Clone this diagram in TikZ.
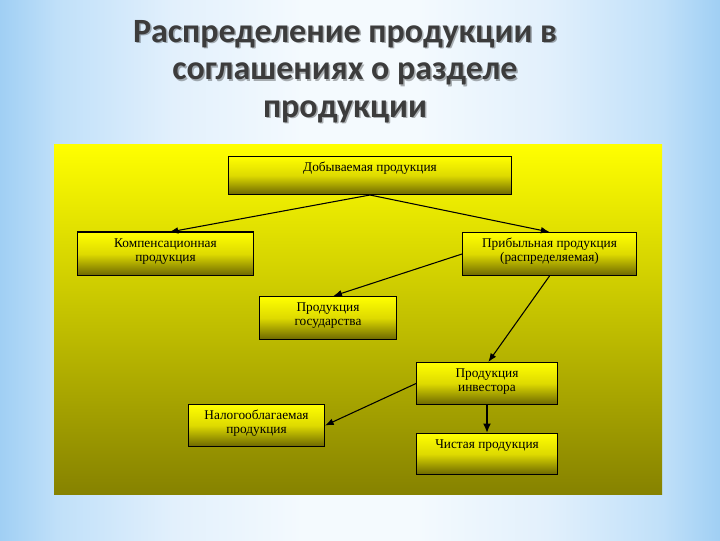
\documentclass[tikz,border=0pt]{standalone}
\usepackage{fontspec}
\setmainfont{Liberation Serif}
\newfontfamily\titlefont{Carlito}
\usetikzlibrary{arrows.meta}
\definecolor{bga}{RGB}{160,207,244}
\definecolor{bgb}{RGB}{192,224,249}
\definecolor{bgc}{RGB}{226,240,252}
\definecolor{bgd}{RGB}{244,250,254}
\definecolor{paneltop}{RGB}{255,255,0}
\definecolor{panelbot}{RGB}{134,130,0}
\definecolor{boxtop}{RGB}{255,255,0}
\definecolor{boxmid}{RGB}{222,218,0}
\definecolor{boxbot}{RGB}{108,103,0}
\definecolor{titlegray}{RGB}{60,60,60}
\pgfdeclarehorizontalshading{bgsh}{100bp}{color(0bp)=(bga); color(25bp)=(bga); color(29bp)=(bgb); color(37bp)=(bgc); color(46bp)=(bgd); color(54bp)=(bgd); color(63bp)=(bgc); color(71bp)=(bgb); color(75bp)=(bga); color(100bp)=(bga)}
\pgfdeclareverticalshading{boxsh}{100bp}{color(0bp)=(boxbot); color(25bp)=(boxbot); color(50bp)=(boxmid); color(75bp)=(boxtop); color(100bp)=(boxtop)}
\tikzset{
  bx/.style={draw=black, line width=0.75pt, shading=boxsh, inner sep=0pt, anchor=north west},
  txt/.style={font=\fontsize{10}{10.5}\selectfont, align=center, inner sep=0pt, anchor=north},
  arr/.style={draw=black, line width=0.8pt, -{Latex[length=6.5pt,width=5pt]}},
  arrthick/.style={draw=black, line width=1.6pt, -{Latex[length=7pt,width=6pt]}},
  ttl/.style={font=\titlefont\bfseries\fontsize{25.5}{28}\selectfont, align=center, anchor=base}
}
\newcommand{\qbox}[6]{%
  \node[bx, minimum width={(#4-#2)*0.75pt}, minimum height={(#5-#3)*0.75pt}] (#1) at (#2,#3) {};
  \node[txt] (#1t) at ([yshift=-4.6pt]#1.north) {#6};}
\begin{document}
\begin{tikzpicture}[x=0.75pt,y=-0.75pt]
\useasboundingbox (0,0) rectangle (720,540);
\shade[shading=bgsh] (0,0) rectangle (720,540);
% title
\node[ttl, text=black, opacity=0.3] (titleshadow) at (346.5,118.5) {Распределение продукции в\\соглашениях о разделе\\продукции};
\node[ttl, text=titlegray] (title) at (345,117) {Распределение продукции в\\соглашениях о разделе\\продукции};
% panel
\shade[top color=paneltop, bottom color=panelbot] (54,144) rectangle (662,494);
% boxes
\qbox{top}{228}{156}{511}{194}{Добываемая продукция}
\qbox{komp}{77}{232}{253}{275}{Компенсационная\\продукция}
\draw[line width=1.6pt] (komp.north west) -- (komp.north east);
\qbox{prib}{462}{232}{636}{275}{Прибыльная продукция\\(распределяемая)}
\qbox{gos}{259}{296}{396}{339}{Продукция\\государства}
\qbox{inv}{416}{362}{557}{404}{Продукция\\инвестора}
\qbox{nalog}{188}{404}{324}{446}{Налогооблагаемая\\продукция}
\qbox{chist}{416}{433}{557}{474}{Чистая продукция}
% connectors
\draw[arr] (top.south) -- ([xshift=3pt]komp.north);
\draw[arr] (top.south) -- (prib.north);
\draw[arr] (prib.west) -- ([xshift=4pt]gos.north);
\draw[arr] (prib.south) -- ([xshift=1pt]inv.north);
\draw[arr] (inv.west) -- (nalog.east);
\draw[arrthick] (inv.south) -- (chist.north);
\end{tikzpicture}
\end{document}
